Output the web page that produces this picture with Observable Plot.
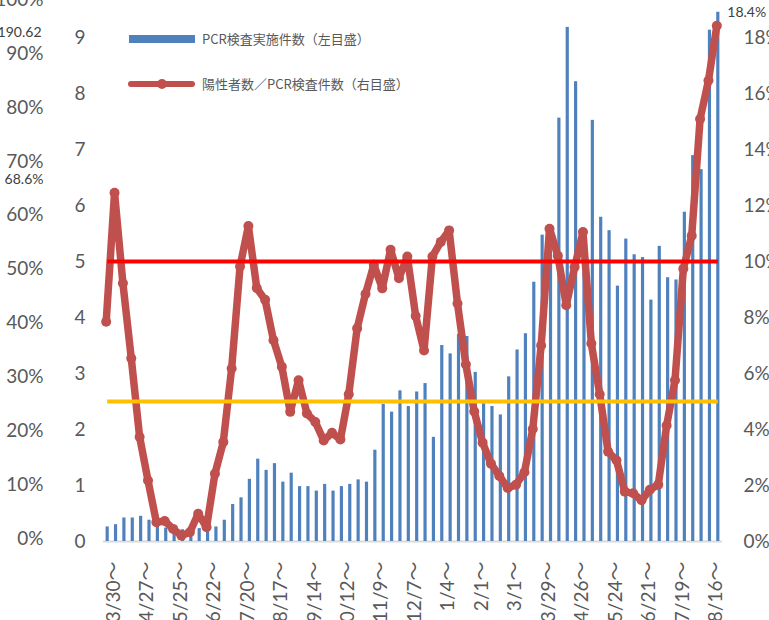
<!DOCTYPE html>
<html><head><meta charset="utf-8">
<script src="https://cdn.jsdelivr.net/npm/d3@7"></script>
<script src="https://cdn.jsdelivr.net/npm/@observablehq/plot@0.6"></script>
<style>
body{margin:0;background:#fff;}
#wrap{position:relative;width:769px;height:620px;overflow:hidden;background:#fff;}
.lg{position:absolute;font-family:"Noto Sans CJK JP",sans-serif;font-size:13px;color:#595959;white-space:nowrap;line-height:1;}
</style></head><body><div id="wrap"></div>
<script>
// ---- data ----
const weekLabels = ["3/30～","4/27～","5/25～","6/22～","7/20～","8/17～","9/14～","10/12～","11/9～","12/7～","1/4～","2/1～","3/1～","3/29～","4/26～","5/24～","6/21～","7/19～","8/16～"];
const labelEvery = 4;
const tests = [0.26,0.30,0.42,0.42,0.45,0.38,0.32,0.24,0.17,0.21,
 0.18,0.23,0.20,0.26,0.38,0.66,0.78,1.11,1.47,1.27,
 1.39,1.06,1.22,0.98,0.98,0.90,1.02,0.90,0.98,1.02,
 1.10,1.06,1.63,2.45,2.31,2.69,2.41,2.67,2.82,1.86,
 3.50,3.35,3.70,3.66,3.02,2.46,2.41,2.26,2.94,3.42,
 3.71,4.63,5.47,5.20,7.56,9.18,8.21,4.80,7.52,5.79,
 5.55,4.56,5.40,5.12,5.07,4.31,5.27,4.71,4.67,5.88,
 6.89,6.64,9.13,9.45];
const positivity = [7.85,12.45,9.22,6.54,3.73,2.18,0.69,0.73,0.45,0.21,
 0.33,0.99,0.51,2.42,3.55,6.18,9.82,11.27,9.05,8.63,
 7.19,6.24,4.63,5.76,4.57,4.27,3.61,3.88,3.64,5.26,
 7.61,8.84,9.88,9.04,10.42,9.40,10.18,8.05,6.82,10.18,
 10.70,11.11,8.50,6.32,4.64,3.53,2.78,2.34,1.91,2.03,
 2.47,4.02,7.00,11.17,10.20,8.44,9.80,11.05,7.07,5.26,
 3.21,2.90,1.78,1.72,1.47,1.85,2.03,4.14,5.76,9.74,
 10.92,15.09,16.46,18.42];
const thresholds = [10, 5];
const thresholdColors = ["#ff0000", "#ffc000"];
const leftTicks = [0,1,2,3,4,5,6,7,8,9];
const rightTicks = [0,2,4,6,8,10,12,14,16,18];
const farLeftTicks = [0,10,20,30,40,50,60,70,80,90,100];
const sideNotes = ["190.62", "68.6%"];
const legendLabels = ["PCR検査実施件数（左目盛）", "陽性者数／PCR検査件数（右目盛）"];

// ---- build ----
const data = tests.map((t, i) => ({i, t, p: positivity[i]}));
const last = data.length - 1;
const pctToU = p => p / 2;                    // right axis: 2% per left-axis unit
const farToU = p => (3 + 5.386 * p) / 56;     // far-left percent axis placement
const xTicks = weekLabels.map((_, k) => k * labelEvery);
const xLab = new Map(xTicks.map((v, k) => [v, weekLabels[k]]));
const farVals = farLeftTicks.map(farToU);
const farLab = new Map(farVals.map((v, k) => [v, farLeftTicks[k] + "%"]));
const tcol = "#595959";
const FF = "Lato, 'Noto Sans CJK JP', sans-serif";

const chart = Plot.plot({
  width: 769, height: 620,
  marginLeft: 103, marginRight: 47, marginTop: 0, marginBottom: 79,
  x: {type: "linear", domain: [-0.5, last + 0.5], axis: null},
  y: {domain: [0, 9.66], axis: null},
  style: {fontFamily: FF, fontSize: "19px", color: tcol, background: "#fff"},
  marks: [
    Plot.axisY({ticks: leftTicks, anchor: "left", tickSize: 0, tickPadding: 18, label: null, fontSize: 19, fill: tcol}),
    Plot.axisY({ticks: rightTicks.map(pctToU), tickFormat: d => `${Math.round(d * 2)}%`, anchor: "right", tickSize: 0, tickPadding: 21, label: null, fontSize: 19, fill: tcol}),
    Plot.axisY({ticks: farVals, tickFormat: d => farLab.get(d), anchor: "left", tickSize: 0, tickPadding: 60, label: null, fontSize: 19, fill: tcol}),
    Plot.axisX({ticks: xTicks, tickFormat: d => xLab.get(d), anchor: "bottom", tickRotate: -90, tickSize: 0, tickPadding: 20, label: null, fontSize: 19, fill: tcol, dx: 6}),
    Plot.ruleY([0], {x1: -0.5, x2: last + 0.5, stroke: "#d9d9d9", strokeWidth: 2}),
    Plot.rectY(data, {x1: d => d.i - 0.19, x2: d => d.i + 0.19, y1: 0, y2: "t", fill: "#4f81bd"}),
    Plot.line(data, {x: "i", y: d => pctToU(d.p), stroke: "#c0504d", strokeWidth: 7.5, strokeLinejoin: "round", strokeLinecap: "round", dx: -1.5}),
    Plot.dot(data, {x: "i", y: d => pctToU(d.p), r: 5, fill: "#c0504d", stroke: "none", dx: -1.5}),
    Plot.ruleY(thresholds, {y: d => pctToU(d), x1: 0, x2: last, stroke: (d, k) => thresholdColors[k], strokeWidth: 4}),
    Plot.text([data[last]], {x: "i", y: d => pctToU(d.p), text: d => d.p.toFixed(1) + "%", textAnchor: "start", lineAnchor: "middle", dx: 9, dy: -13, fontSize: 14, fontFamily: FF, fill: "#404040"}),
    Plot.text([sideNotes[0]], {frameAnchor: "top-left", text: d => d, textAnchor: "end", lineAnchor: "middle", dx: -62, dy: 32, fontSize: 14, fontFamily: FF, fill: "#404040"}),
    Plot.text([sideNotes[1]], {frameAnchor: "top-left", text: d => d, textAnchor: "end", lineAnchor: "middle", dx: -60, dy: 179, fontSize: 14, fontFamily: FF, fill: "#404040"})
  ]
});
const wrap = document.getElementById("wrap");
wrap.appendChild(chart);

// legend (inside plot area, top-left)
const lg = [
  {sw: `<div style="position:absolute;left:129px;top:35px;width:66px;height:8px;background:#4f81bd"></div>`, text: legendLabels[0], top: 39},
  {sw: `<div style="position:absolute;left:128px;top:81px;width:67px;height:6px;border-radius:3px;background:#c0504d"></div><div style="position:absolute;left:157px;top:79px;width:10px;height:10px;border-radius:5px;background:#c0504d"></div>`, text: legendLabels[1], top: 84}
];
lg.forEach(o => {
  wrap.insertAdjacentHTML("beforeend", o.sw);
  const s = document.createElement("div");
  s.className = "lg";
  s.textContent = o.text;
  s.style.left = "202px";
  s.style.top = (o.top - 7) + "px";
  wrap.appendChild(s);
});
</script></body></html>
